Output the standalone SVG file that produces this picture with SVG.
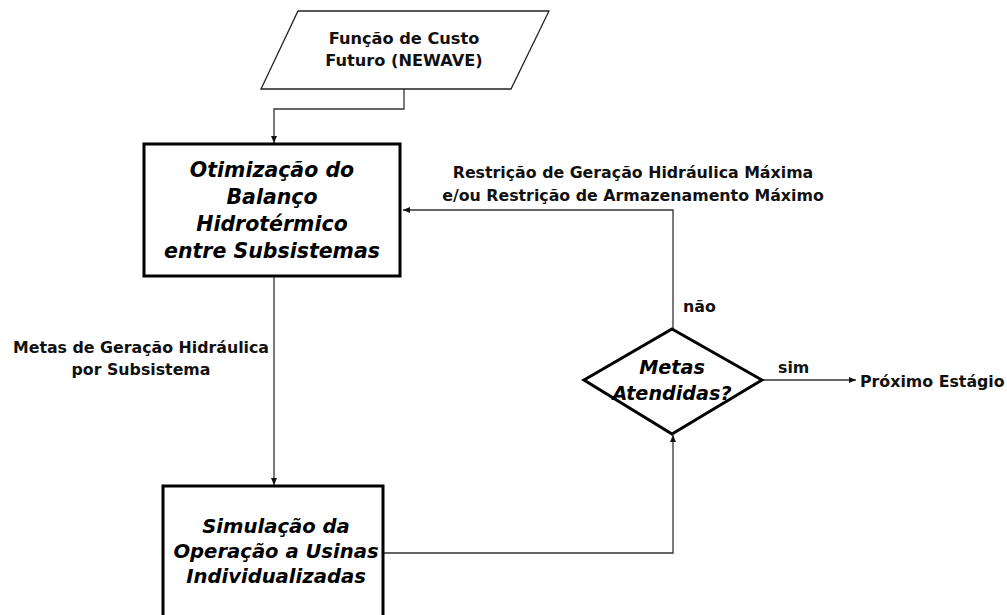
<svg xmlns="http://www.w3.org/2000/svg" width="1007" height="615" viewBox="0 0 1007 615">
<style>
.shape{fill:#fff;stroke:#000;stroke-width:3}
.para{fill:#fff;stroke:#222;stroke-width:1.3}
.conn{fill:none;stroke:#333;stroke-width:1.3}
.node{font-family:"DejaVu Sans",sans-serif;font-weight:bold;font-style:italic;fill:#000;text-anchor:middle}
.lbl{font-family:"DejaVu Sans",sans-serif;font-weight:bold;font-size:15.8px;fill:#111}
.mid{text-anchor:middle}
</style>
<defs>
<marker id="ah" markerWidth="8" markerHeight="6" refX="7" refY="3" orient="auto" markerUnits="userSpaceOnUse">
<path d="M0,0 L7,3 L0,6 Z" fill="#111"/>
</marker>
</defs>
<rect width="1007" height="615" fill="#fff"/>
<g id="connectors">
<path class="conn" d="M404,89 V109 H274 V143" marker-end="url(#ah)"/>
<path class="conn" d="M274,276 V485" marker-end="url(#ah)"/>
<path class="conn" d="M383,553 H673 V435" marker-end="url(#ah)"/>
<path class="conn" d="M673,329 V210 H403" marker-end="url(#ah)"/>
<path class="conn" d="M762,380 H856" marker-end="url(#ah)"/>
</g>
<g id="funcao-custo">
<polygon class="para" points="298,11 549,11 511,89 261,89"/>
<text class="lbl mid" style="font-size:16.2px" x="404" y="44">Função de Custo</text>
<text class="lbl mid" style="font-size:16.2px" x="404" y="66">Futuro (NEWAVE)</text>
</g>
<g id="otimizacao">
<rect class="shape" x="144" y="144" width="256" height="132"/>
<g style="font-size:20.5px">
<text class="node" x="272" y="177">Otimização do</text>
<text class="node" x="272" y="204">Balanço</text>
<text class="node" x="272" y="231">Hidrotérmico</text>
<text class="node" x="272" y="258">entre Subsistemas</text>
</g>
</g>
<g id="simulacao">
<rect class="shape" x="163" y="486" width="220" height="140"/>
<g style="font-size:19.6px">
<text class="node" x="276" y="533">Simulação da</text>
<text class="node" x="276" y="558">Operação a Usinas</text>
<text class="node" x="276" y="583">Individualizadas</text>
</g>
</g>
<g id="decisao">
<polygon class="shape" points="672,329 762,380 672,434 584,380"/>
<g style="font-size:19.2px">
<text class="node" x="672" y="374">Metas</text>
<text class="node" x="672" y="400">Atendidas?</text>
</g>
</g>
<g id="labels">
<text class="lbl mid" x="633" y="178">Restrição de Geração Hidráulica Máxima</text>
<text class="lbl mid" x="633" y="201">e/ou Restrição de Armazenamento Máximo</text>
<text class="lbl mid" x="141" y="353">Metas de Geração Hidráulica</text>
<text class="lbl mid" x="141" y="375">por Subsistema</text>
<text class="lbl" x="683" y="312">não</text>
<text class="lbl" x="778" y="373">sim</text>
<text class="lbl" x="860" y="387">Próximo Estágio</text>
</g>
</svg>
